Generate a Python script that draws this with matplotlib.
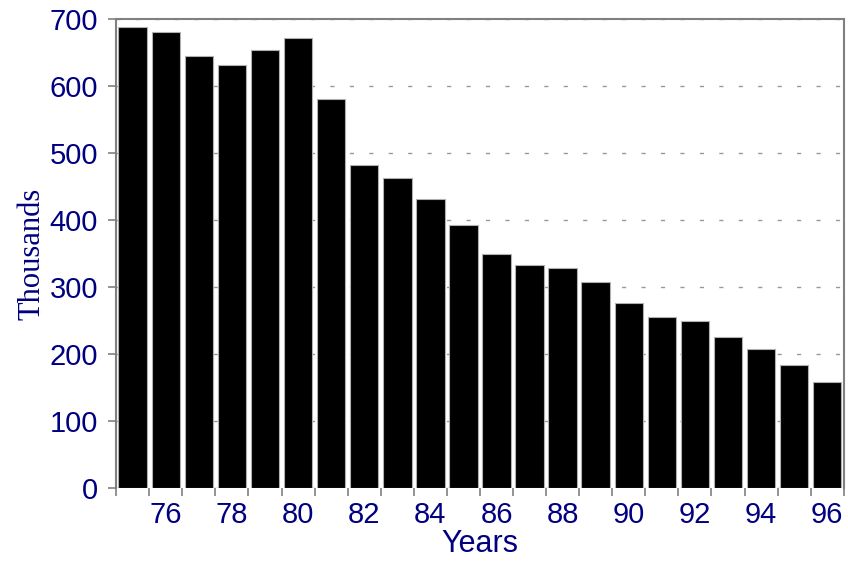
import numpy as np
import matplotlib
matplotlib.use('Agg')
import matplotlib.pyplot as plt

# values (thousands)
years = [75, 76, 77, 78, 79, 80, 81, 82, 83, 84, 85,
         86, 87, 88, 89, 90, 91, 92, 93, 94, 95, 96]
thousands = [688, 680, 645, 632, 654, 672, 581, 482, 463, 431, 392,
             349, 333, 328, 307, 276, 255, 250, 226, 208, 183, 159]
label_years = [76, 78, 80, 82, 84, 86, 88, 90, 92, 94, 96]
y_ticks = [0, 100, 200, 300, 400, 500, 600, 700]

navy = '#000080'
grey = '#808080'

fig = plt.figure(figsize=(8.48, 5.61), dpi=100)
ax = fig.add_axes([0.137, 0.130, 0.858, 0.836])

ax.bar(years, thousands, width=0.86, color='black',
       edgecolor='#b0b0b0', linewidth=0.8, zorder=2)

ax.set_xlim(years[0] - 0.5, years[-1] + 0.5)
ax.set_ylim(0, 700)

# tick marks sit between bars, labels under even years
ax.set_xticks(np.arange(years[0] - 0.5, years[-1] + 1, 1.0))
ax.set_xticklabels([])
ax.set_xticks(label_years, minor=True)
ax.set_xticklabels([str(y) for y in label_years], minor=True)
ax.tick_params(axis='x', which='major', direction='out', length=6,
               width=1.2, color=grey)
ax.tick_params(axis='x', which='minor', length=0, pad=9,
               labelsize=21, labelcolor=navy)

ax.set_yticks(y_ticks)
ax.tick_params(axis='y', direction='out', length=6, width=1.2,
               color=grey, pad=7, labelsize=21, labelcolor=navy)
for lab in ax.get_xticklabels(minor=True) + ax.get_yticklabels():
    lab.set_family('Liberation Sans')

ax.yaxis.grid(True, color='#999999', linestyle=(0, (3, 11)),
              linewidth=1.0, zorder=1)
ax.set_axisbelow(True)

for side in ['left', 'top', 'right']:
    ax.spines[side].set_color(grey)
    ax.spines[side].set_linewidth(1.5)
ax.spines['bottom'].set_visible(False)

ax.set_xlabel('Years', fontsize=22, color=navy, family='Liberation Sans',
              labelpad=0)
ax.set_ylabel('Thousands', fontsize=22, color=navy, family='Liberation Serif',
              labelpad=2)

fig.savefig('out.png', dpi=100)
